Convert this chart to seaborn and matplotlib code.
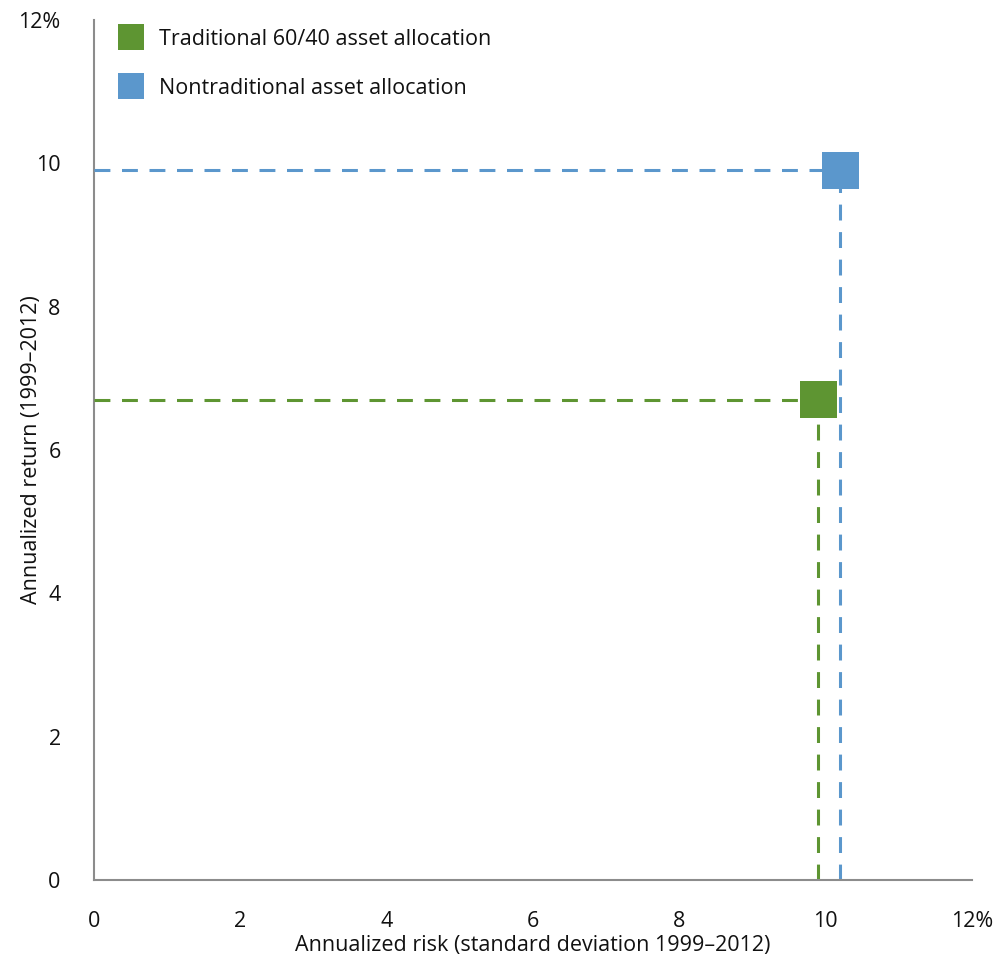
import matplotlib
matplotlib.use("Agg")
import matplotlib.pyplot as plt
import seaborn as sns
import pandas as pd
from matplotlib.lines import Line2D

series = ["Traditional 60/40 asset allocation", "Nontraditional asset allocation"]
risk = [9.9, 10.2]
ret = [6.7, 9.9]
colors = ["#5E9532", "#5B97CC"]
xticks = [0, 2, 4, 6, 8, 10, 12]
xtick_labels = ["0", "2", "4", "6", "8", "10", "12%"]
yticks = [0, 2, 4, 6, 8, 10, 12]
ytick_labels = ["0", "2", "4", "6", "8", "10", "12%"]

sns.set_style("white")
plt.rcParams['font.family'] = ['Open Sans', 'DejaVu Sans']
plt.rcParams['text.color'] = '#111111'
plt.rcParams['axes.labelcolor'] = '#111111'
plt.rcParams['xtick.color'] = '#111111'
plt.rcParams['ytick.color'] = '#111111'

FS = 15.5

df = pd.DataFrame({"series": series, "risk": risk, "ret": ret})

fig = plt.figure(figsize=(9.99, 9.63), dpi=100)
ax = fig.add_axes([94/999, 1-880/963, (972-94)/999, (880-20)/963])

for x, y, c in zip(risk, ret, colors):
    ax.plot([0, x], [y, y], color=c, lw=2.2, dashes=(5.2, 3.8), zorder=2)
    ax.plot([x, x], [0, y], color=c, lw=2.2, dashes=(5.2, 3.8), zorder=2)

sns.scatterplot(data=df, x="risk", y="ret", hue="series", palette=colors,
                marker="s", s=720, linewidth=0, ax=ax, legend=False, zorder=3)

ax.set_xlim(0, 12)
ax.set_ylim(0, 12)
ax.set_xticks(xticks)
ax.set_xticklabels(xtick_labels, fontsize=FS)
ax.set_yticks(yticks)
ax.set_yticklabels(ytick_labels, fontsize=FS)
ax.tick_params(axis='x', length=0, pad=22)
ax.tick_params(axis='y', length=0, pad=24)
ax.set_xlabel("Annualized risk (standard deviation 1999–2012)", fontsize=FS)
ax.set_ylabel("Annualized return (1999–2012)", fontsize=FS)
ax.xaxis.set_label_coords(0.5, -65/860, transform=ax.transAxes)
ax.yaxis.set_label_coords(-62/878, 0.5, transform=ax.transAxes)
ax.xaxis.label.set_va('center')
ax.yaxis.label.set_va('center')

for s in ["top", "right"]:
    ax.spines[s].set_visible(False)
for s in ["left", "bottom"]:
    ax.spines[s].set_color("#8C8C8C")
    ax.spines[s].set_linewidth(1.5)
ax.spines["left"].set_zorder(1)

handles = [Line2D([], [], marker='s', linestyle='none', markersize=19,
                  markerfacecolor=c, markeredgewidth=0) for c in colors]
ax.legend(handles, series, loc='upper left', bbox_to_anchor=(0.013, 1.0),
          frameon=False, fontsize=FS, labelspacing=1.3, handletextpad=0.5,
          borderaxespad=0, handlelength=1.6)

fig.savefig("out.png", dpi=100)
